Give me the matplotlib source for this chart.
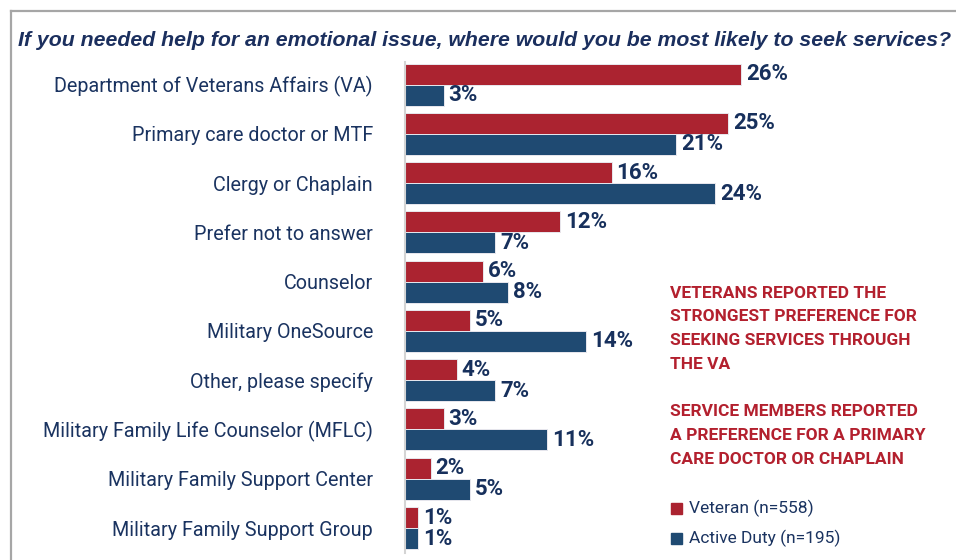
import matplotlib
matplotlib.use("Agg")
import numpy as np
import matplotlib.pyplot as plt
from matplotlib import font_manager
from matplotlib.lines import Line2D
from matplotlib.patches import Rectangle

categories = [
    "Department of Veterans Affairs (VA)",
    "Primary care doctor or MTF",
    "Clergy or Chaplain",
    "Prefer not to answer",
    "Counselor",
    "Military OneSource",
    "Other, please specify",
    "Military Family Life Counselor (MFLC)",
    "Military Family Support Center",
    "Military Family Support Group",
]
veteran = [26, 25, 16, 12, 6, 5, 4, 3, 2, 1]
active_duty = [3, 21, 24, 7, 8, 14, 7, 11, 5, 1]

title = "If you needed help for an emotional issue, where would you be most likely to seek services?"
note_1 = ["VETERANS REPORTED THE", "STRONGEST PREFERENCE FOR",
          "SEEKING SERVICES THROUGH", "THE VA"]
note_2 = ["SERVICE MEMBERS REPORTED", "A PREFERENCE FOR A PRIMARY",
          "CARE DOCTOR OR CHAPLAIN"]
legend_labels = ["Veteran (n=558)", "Active Duty (n=195)"]

RED = "#ab2330"
BLUE = "#1f4a72"
NAVY = "#1a3360"
NOTE_RED = "#b3202e"

names = {f.name for f in font_manager.fontManager.ttflist}
has_narrow = "Liberation Sans Narrow" in names
narrow = "Liberation Sans Narrow" if has_narrow else "Roboto"
val_size = 15 if has_narrow else 16
note_size = 13.6 if has_narrow else 12.5

W, H = 956, 560
fig = plt.figure(figsize=(W / 100, H / 100), dpi=100)


def fx(x):
    return x / W


def fy(y):
    return 1 - y / H


# outer frame (top and left)
fig.add_artist(Line2D([fx(11), 1], [fy(11), fy(11)], color="#a6a6a6", lw=1.6))
fig.add_artist(Line2D([fx(11), fx(11)], [fy(11), 0], color="#a6a6a6", lw=1.6))

fig.text(fx(18), fy(46), title, fontsize=15.3, fontweight="bold", style="italic",
         family="Liberation Sans", color="#1b2f5e", va="baseline")

# axes: left edge 405px, top 62px, bottom 553px
ax = fig.add_axes([fx(405), fy(553), (30 * 12.92) / W, (553 - 62) / H])
ax.set_xlim(0, 30)
ax.set_ylim(9.507, -0.457)

y = np.arange(len(categories))
h = 0.426
ax.barh(y - h / 2, veteran, height=h, color=RED, edgecolor="#e8e8ee", linewidth=0.7)
ax.barh(y + h / 2, active_duty, height=h, color=BLUE, edgecolor="#e8e8ee", linewidth=0.7)

for yi, v in zip(y, veteran):
    ax.annotate(f"{v}%", (v, yi - h / 2), xytext=(3.5, 0), textcoords="offset points",
                va="center", ha="left", fontsize=val_size, fontweight="bold",
                family=narrow, color="#17305c")
for yi, v in zip(y, active_duty):
    ax.annotate(f"{v}%", (v, yi + h / 2), xytext=(3.5, 0), textcoords="offset points",
                va="center", ha="left", fontsize=val_size, fontweight="bold",
                family=narrow, color="#17305c")

ax.set_yticks(y)
ax.set_yticklabels(categories, fontsize=14.2, family="Roboto", color=NAVY)
ax.tick_params(axis="y", length=0, pad=23)
ax.set_xticks([])
for s in ["top", "right", "bottom"]:
    ax.spines[s].set_visible(False)
ax.spines["left"].set_color("#d4d4d4")
ax.spines["left"].set_linewidth(1.5)
ax.patch.set_alpha(0)

# notes
for i, line in enumerate(note_1):
    fig.text(fx(670), fy(293 + i * 23.7), line, fontsize=note_size, fontweight="bold",
             family=narrow, color=NOTE_RED, va="center")
for i, line in enumerate(note_2):
    fig.text(fx(670), fy(412 + i * 23.7), line, fontsize=note_size, fontweight="bold",
             family=narrow, color=NOTE_RED, va="center")

# legend
for i, (lab, col) in enumerate(zip(legend_labels, [RED, BLUE])):
    yc = 508 + i * 30
    fig.add_artist(Rectangle((fx(671), fy(yc + 5.5)), 11 / W, 11 / H,
                             color=col, transform=fig.transFigure))
    fig.text(fx(689), fy(yc), lab, fontsize=12.5, family="Roboto", color=NAVY, va="center")

fig.savefig("out.png", dpi=100)
